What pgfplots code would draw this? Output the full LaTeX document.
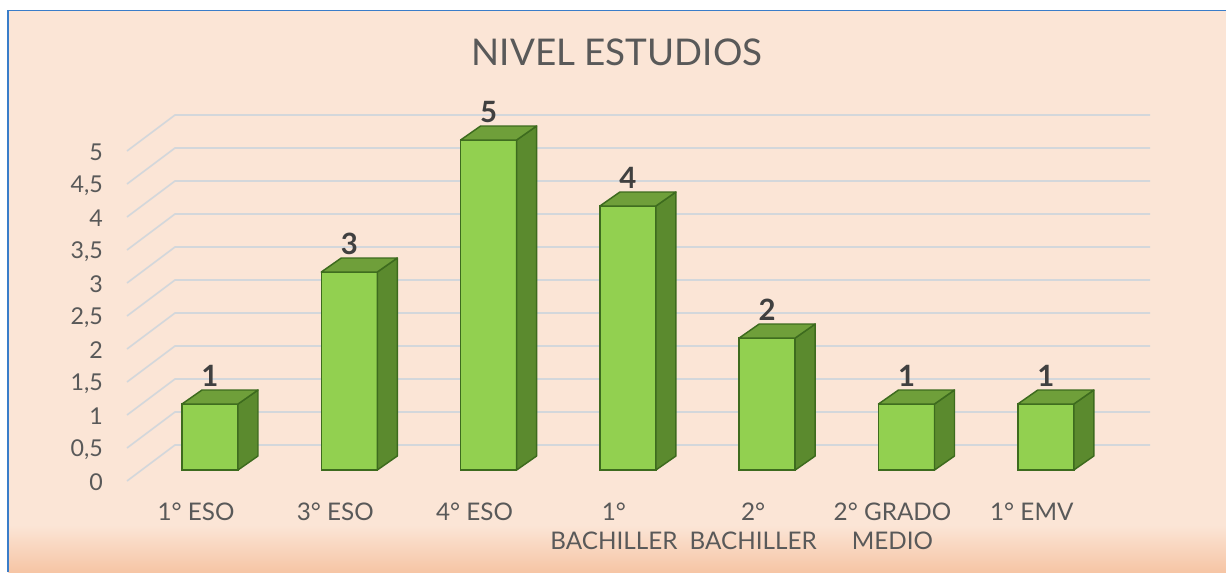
\documentclass[border=0pt]{standalone}
\usepackage{pgfplots}
\pgfplotsset{compat=1.18}
\usepackage{pgfplotstable}
\usepackage{fontspec}
\setmainfont{Lato}
\definecolor{bg}{HTML}{FBE5D6}
\definecolor{bgbottom}{HTML}{F6C5A5}
\definecolor{borderblue}{HTML}{3A7DC9}
\definecolor{gridc}{HTML}{D3D7DB}
\definecolor{textgray}{HTML}{595959}
\definecolor{labeldark}{HTML}{404040}
\definecolor{frontgreen}{HTML}{92D050}
\definecolor{topgreen}{HTML}{6F9F3A}
\definecolor{sidegreen}{HTML}{5B8A2E}
\definecolor{edgegreen}{HTML}{3D6B1E}

\pgfplotstableread{
x v
0 1
1 3
2 5
3 4
4 2
5 1
6 1
}\datatable

\newdimen\prismh
\newdimen\prismt
\pgfdeclareplotmark{prism}{%
  \pgfmathsetlength{\prismh}{\myBarVal*49.5pt}%
  \prismt=10.5pt \advance\prismt by -\prismh
  \pgfsetlinewidth{1.1pt}%
  \pgfsetroundjoin
  \pgfsetstrokecolor{edgegreen}%
  \pgfsetfillcolor{sidegreen}%
  \pgfpathmoveto{\pgfqpoint{21pt}{0pt}}%
  \pgfpathlineto{\pgfqpoint{36pt}{10.5pt}}%
  \pgfpathlineto{\pgfqpoint{36pt}{\prismt}}%
  \pgfpathlineto{\pgfqpoint{21pt}{-\prismh}}%
  \pgfpathclose
  \pgfusepath{fill,stroke}%
  \pgfsetfillcolor{topgreen}%
  \pgfpathmoveto{\pgfqpoint{-21pt}{0pt}}%
  \pgfpathlineto{\pgfqpoint{21pt}{0pt}}%
  \pgfpathlineto{\pgfqpoint{36pt}{10.5pt}}%
  \pgfpathlineto{\pgfqpoint{-6pt}{10.5pt}}%
  \pgfpathclose
  \pgfusepath{fill,stroke}%
}

\begin{document}
\begin{tikzpicture}
% page background
\fill[white] (0pt,0pt) rectangle (919.5pt,429pt);
\fill[bg] (6.2pt,0pt) rectangle (919.5pt,421pt);
\shade[top color=bg, bottom color=bgbottom] (6.2pt,0pt) rectangle (919.5pt,35.25pt);
\draw[borderblue, line width=1.2pt] (6.2pt,0pt) -- (6.2pt,421pt) -- (919.5pt,421pt);
% title
\node[anchor=base, text=textgray, font=\fontsize{27.6}{32}\selectfont, inner sep=0pt]
  at (462.75pt,379.5pt) {NIVEL ESTUDIOS};

\begin{axis}[
  at={(95.25pt,68.25pt)}, anchor=south west,
  x=104.475pt, y=49.5pt,
  xmin=-0.5958, xmax=6.748, ymin=-0.1667, ymax=5.3788,
  clip=false,
  axis line style={draw=none},
  tick style={draw=none},
  major tick length=0pt,
  /pgf/number format/use comma,
  /pgf/number format/assume math mode=true,
  ytick={0,0.5,1,1.5,2,2.5,3,3.5,4,4.5,5},
  yticklabel style={anchor=east, inner sep=0pt, xshift=-18pt, yshift=-9.4pt,
    font=\fontsize{17.4}{20}\selectfont, text=textgray},
  xtick={0,1,2,3,4,5,6},
  xticklabels={{1° ESO},{3° ESO},{4° ESO},{1°\\BACHILLER},{2°\\BACHILLER},{2° GRADO\\MEDIO},{1° EMV}},
  xticklabel style={anchor=north, inner sep=0pt, align=center, xshift=-10.5pt, yshift=-16.5pt,
    font=\fontsize{18.2}{21.75}\selectfont, text=textgray},
]
\pgfplotsinvokeforeach{0,0.5,1,1.5,2,2.5,3,3.5,4,4.5,5}{
  \draw[gridc, line width=1.25pt] (axis cs:-0.5958,{#1-0.1667}) -- (axis cs:-0.2513,{#1+0.3788}) -- (axis cs:6.748,{#1+0.3788});
}
\addplot[ybar, bar width=42pt, fill=frontgreen, draw=edgegreen, line width=1.1pt,
  nodes near coords,
  every node near coord/.append style={anchor=south, inner sep=0pt, yshift=12.75pt,
    font=\fontsize{22}{26}\selectfont\bfseries, text=labeldark}]
  table[x=x, y=v] {\datatable};
\addplot[scatter, only marks, mark=prism,
  visualization depends on={\thisrow{v} \as \myBarVal}]
  table[x=x, y=v] {\datatable};
\end{axis}
\pgfresetboundingbox
\path (0pt,0pt) rectangle (919.5pt,429pt);
\end{tikzpicture}
\end{document}
